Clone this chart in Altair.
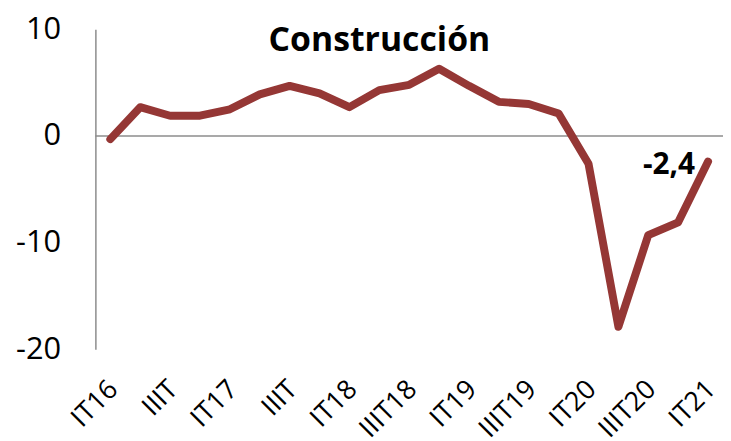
import altair as alt
import pandas as pd

categories = ["IT16", "IIT16", "IIIT16", "IVT16", "IT17", "IIT17", "IIIT17", "IVT17",
              "IT18", "IIT18", "IIIT18", "IVT18", "IT19", "IIT19", "IIIT19", "IVT19",
              "IT20", "IIT20", "IIIT20", "IVT20", "IT21"]
values = [-0.3, 2.7, 1.9, 1.9, 2.5, 3.9, 4.7, 4.0, 2.7, 4.3, 4.8, 6.3,
          4.7, 3.2, 3.0, 2.1, -2.6, -17.9, -9.3, -8.1, -2.4]
shown_ticks = ["IT16", "IIIT16", "IT17", "IIIT17", "IT18", "IIIT18", "IT19",
               "IIIT19", "IT20", "IIIT20", "IT21"]
shown_labels = ["IT16", "IIIT", "IT17", "IIIT", "IT18", "IIIT18", "IT19",
                "IIIT19", "IT20", "IIIT20", "IT21"]
y_ticks = [-20, -10, 0, 10]
last_label = "-2,4"
title_text = "Construcción"

df = pd.DataFrame({"cat": categories, "val": values})
df_last = pd.DataFrame({"cat": [categories[-1]], "val": [values[-1]], "txt": [last_label]})
df_zero = pd.DataFrame({"y": [0]})
df_title = pd.DataFrame({"t": [title_text]})

label_expr = " : ".join(
    [f"datum.value == '{t}' ? '{l}'" for t, l in zip(shown_ticks, shown_labels)] + ["datum.value"]
)

FONT = "Open Sans"
W, H = 632, 322

x_enc = alt.X(
    "cat:O",
    sort=categories,
    scale=alt.Scale(type="point", padding=0.5),
    axis=alt.Axis(
        values=shown_ticks,
        labelExpr=label_expr,
        labelAngle=-45,
        labelAlign="right",
        labelBaseline="middle",
        labelPadding=36,
        labelOffset=3,
        labelFontSize=27,
        labelFont=FONT,
        labelColor="#000000",
        domain=False,
        ticks=False,
        grid=False,
        title=None,
    ),
)
y_enc = alt.Y(
    "val:Q",
    scale=alt.Scale(domain=[-20, 10], nice=False, zero=False),
    axis=alt.Axis(
        values=y_ticks,
        labelExpr="'' + datum.value",
        grid=False,
        ticks=False,
        domainColor="#8c8c8c",
        domainWidth=1.5,
        labelPadding=35,
        labelFontSize=31,
        labelFont=FONT,
        labelColor="#000000",
        title=None,
    ),
)

zero = alt.Chart(df_zero).mark_rule(color="#8c8c8c", strokeWidth=1.5).encode(y="y:Q")

line = alt.Chart(df).mark_line(
    color="#953735", strokeWidth=8, strokeCap="round", strokeJoin="round"
).encode(x=x_enc, y=y_enc)

text = alt.Chart(df_last).mark_text(
    align="right", baseline="alphabetic", dx=-13, dy=13,
    fontSize=30, fontWeight="bold", font=FONT, color="#000000"
).encode(x=alt.X("cat:O", sort=categories), y="val:Q", text="txt:N")

title = alt.Chart(df_title).mark_text(
    align="center", baseline="alphabetic",
    fontSize=34, fontWeight="bold", font=FONT, color="#000000"
).encode(x=alt.value(W / 2 - 30), y=alt.value(22), text="t:N")

chart = alt.layer(zero, line, text, title).properties(
    width=W,
    height=H,
    autosize=alt.AutoSizeParams(type="none"),
    padding={"left": 88, "top": 20, "right": 0, "bottom": 91},
).configure_view(strokeWidth=0)

chart.save("out.html", embed_options={"renderer": "svg", "actions": False})
